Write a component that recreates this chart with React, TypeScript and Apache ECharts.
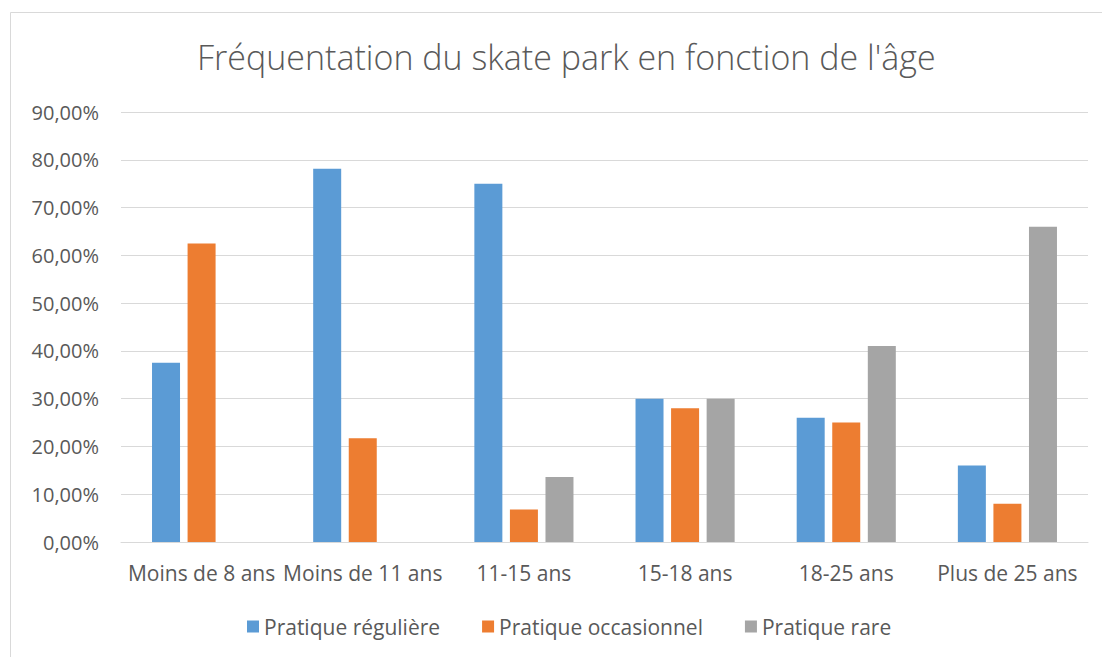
import React, { useEffect, useRef } from "react";
import * as echarts from "echarts";

const categories = ["Moins de 8 ans", "Moins de 11 ans", "11-15 ans", "15-18 ans", "18-25 ans", "Plus de 25 ans"];
const seriesNames = ["Pratique régulière", "Pratique occasionnel", "Pratique rare"];
const regular = [37.5, 78.1, 75.0, 30.0, 26.0, 16.0];
const occasional = [62.5, 21.7, 6.8, 28.0, 25.0, 8.0];
const rare = [null, null, 13.6, 30.0, 41.0, 66.0];
const colors = ["#5b9bd5", "#ed7d31", "#a5a5a5"];
const titleText = "Fréquentation du skate park en fonction de l'âge";

const FONT = "Open Sans";

export default function App() {
  const ref = useRef<HTMLDivElement>(null);
  useEffect(() => {
    if (!ref.current) return;
    const chart = echarts.init(ref.current, undefined, { renderer: "svg" });
    const data = [regular, occasional, rare];
    chart.setOption({
      animation: false,
      backgroundColor: "#ffffff",
      textStyle: { fontFamily: FONT },
      title: {
        text: titleText,
        left: 192,
        top: 35,
        textStyle: { fontFamily: FONT, fontSize: 34, fontWeight: 300, color: "#595959" },
      },
      graphic: [
        {
          type: "rect",
          shape: { x: 10.5, y: 12.5, width: 1200, height: 800 },
          style: { fill: "none", stroke: "#d9d9d9", lineWidth: 1 },
          silent: true,
        },
      ],
      legend: {
        bottom: 15,
        left: 242,
        itemWidth: 12,
        itemHeight: 12,
        itemGap: 42,
        icon: "rect",
        textStyle: { fontFamily: FONT, fontSize: 21, color: "#595959" },
        data: seriesNames,
      },
      grid: { left: 121, right: 14, top: 112, bottom: 115 },
      xAxis: {
        type: "category",
        data: categories,
        axisLine: { lineStyle: { color: "#d9d9d9", width: 1 } },
        axisTick: { show: false },
        axisLabel: { fontFamily: FONT, fontSize: 21, color: "#595959", margin: 20, interval: 0 },
      },
      yAxis: {
        type: "value",
        min: 0,
        max: 90,
        interval: 10,
        axisLine: { show: false },
        axisTick: { show: false },
        splitLine: { lineStyle: { color: "#d9d9d9", width: 1 } },
        axisLabel: {
          fontFamily: FONT,
          fontSize: 20,
          color: "#595959",
          margin: 22,
          formatter: (v: number) => v.toFixed(2).replace(".", ",") + "%",
        },
      },
      series: seriesNames.map((name, i) => ({
        name,
        type: "bar",
        data: data[i],
        barWidth: 28,
        barGap: "27%",
        itemStyle: { color: colors[i] },
      })),
    });
    return () => chart.dispose();
  }, []);
  return <div ref={ref} style={{ position: "fixed", left: 0, top: 0, width: 1102, height: 657 }} />;
}
